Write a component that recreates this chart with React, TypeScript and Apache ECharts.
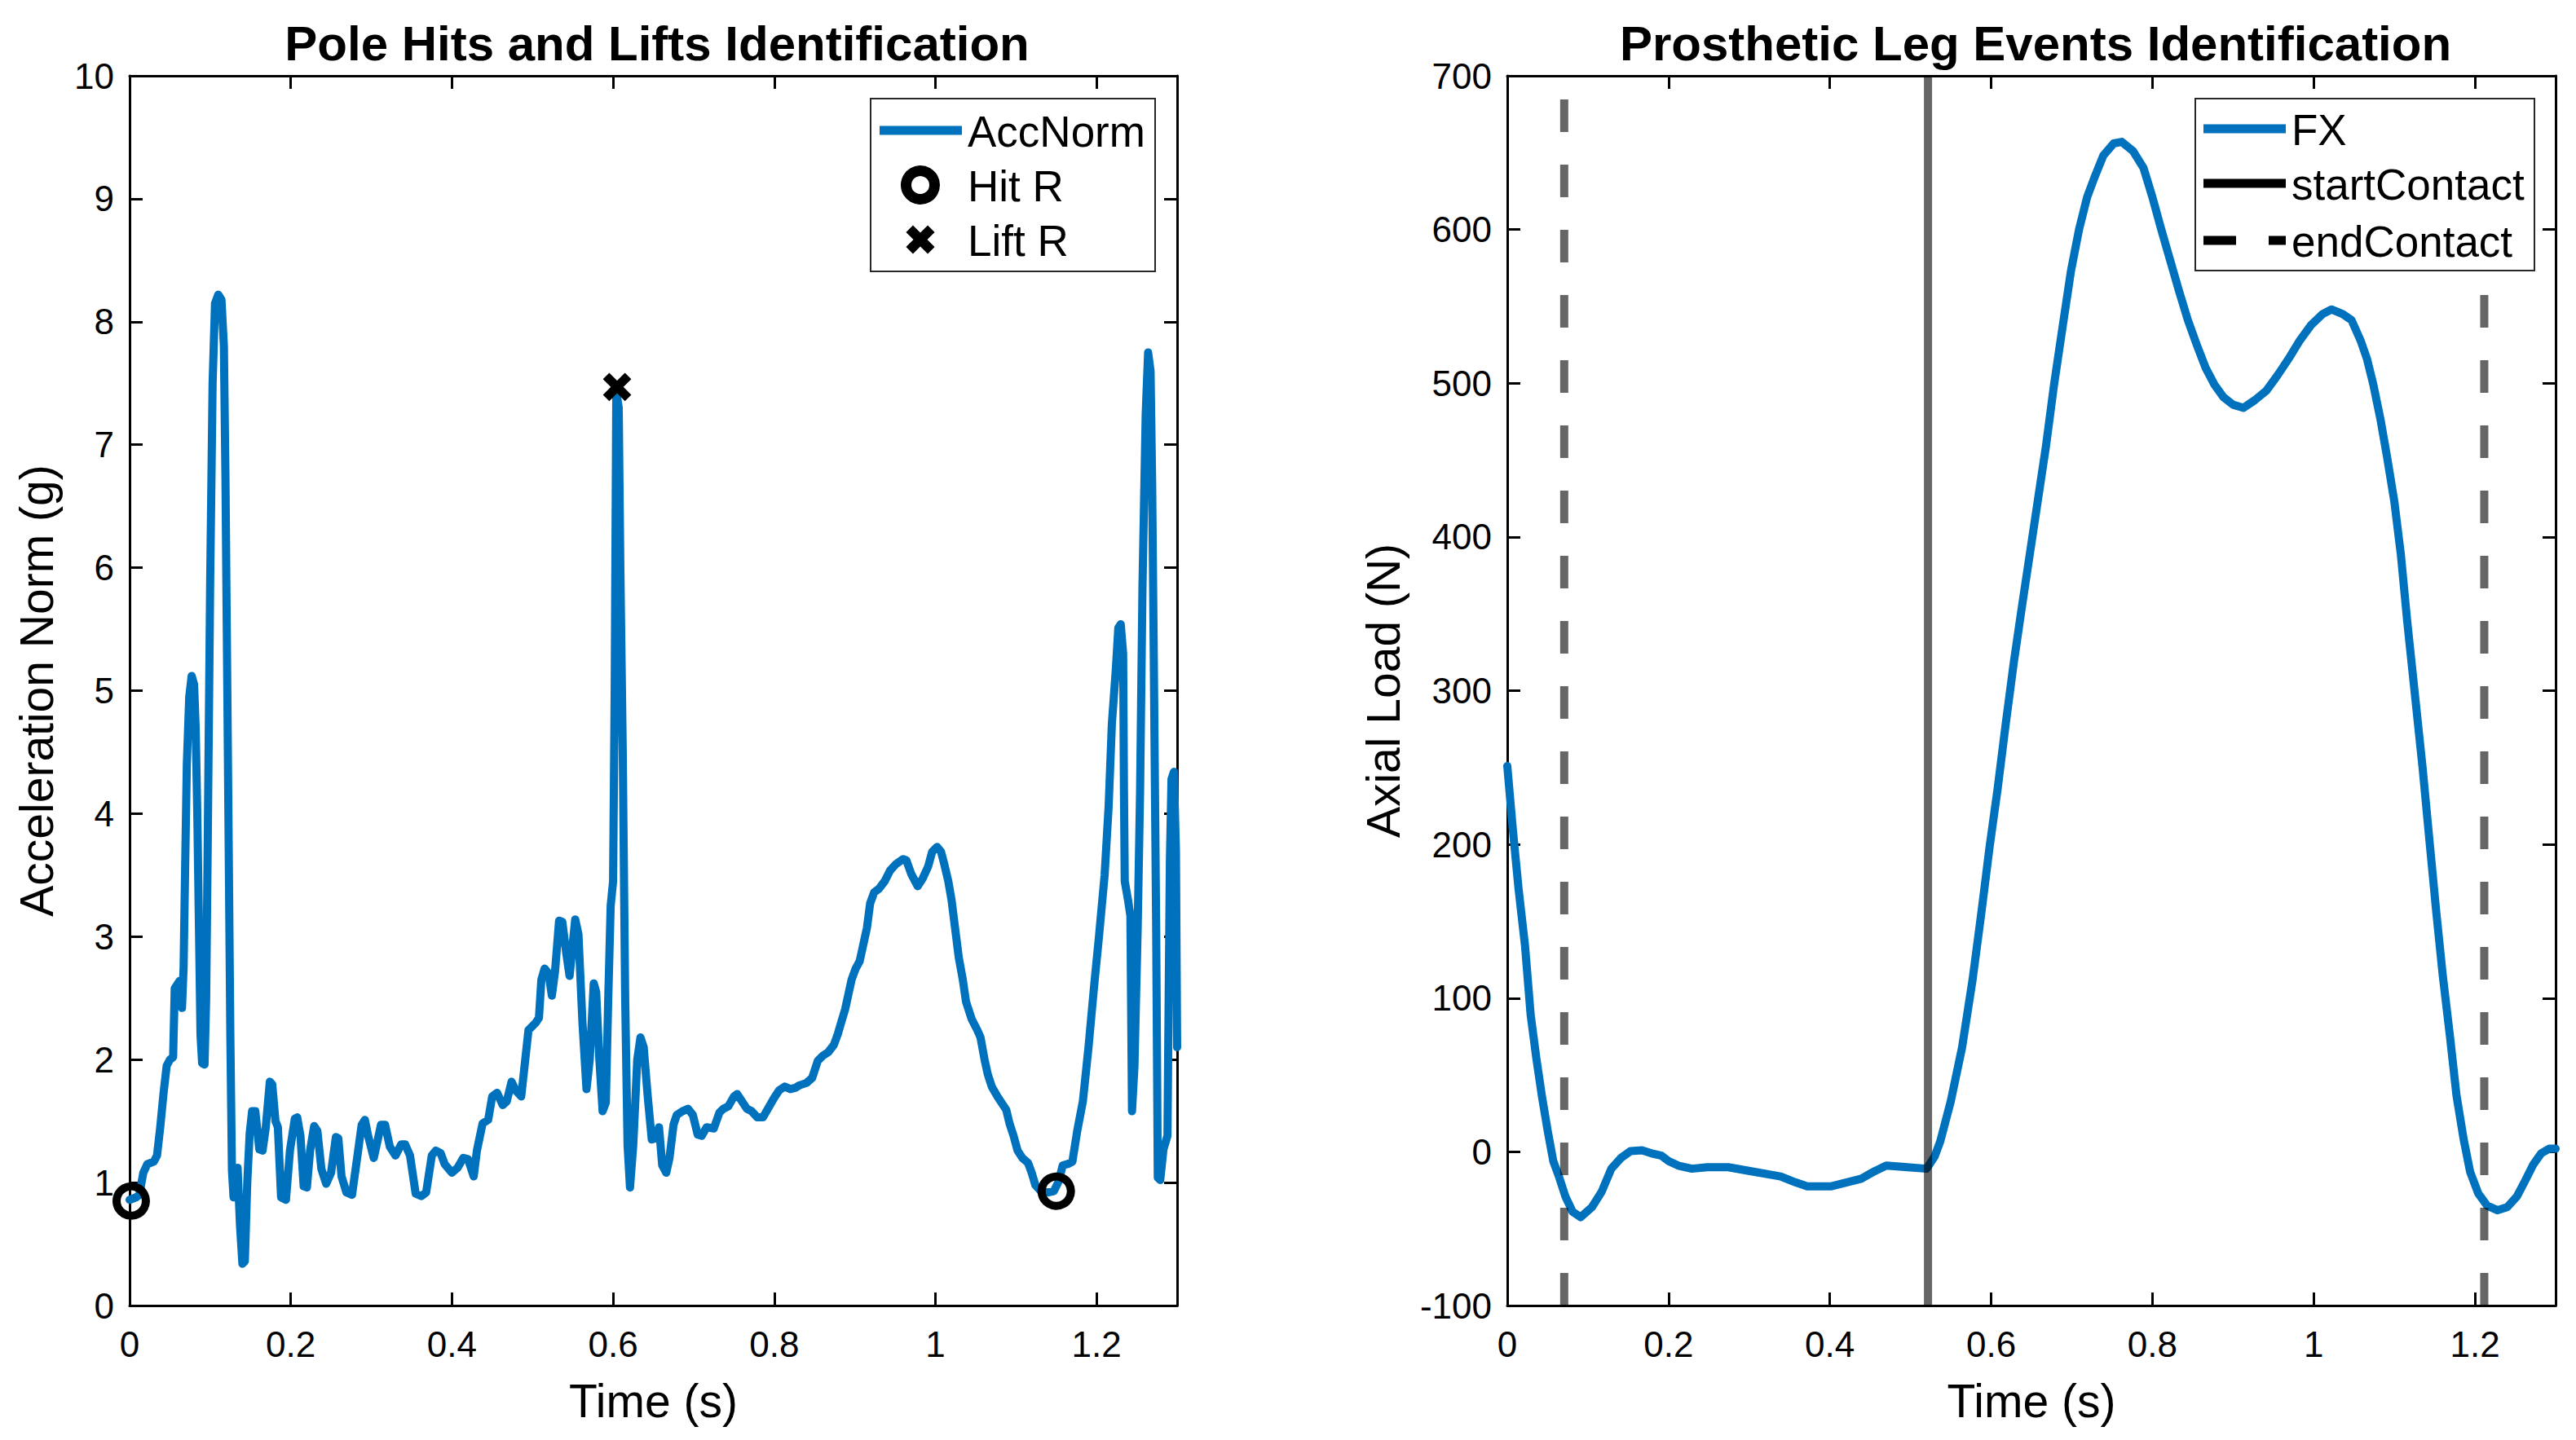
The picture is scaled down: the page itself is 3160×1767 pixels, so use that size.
import { useEffect, useRef } from "react";
import * as echarts from "echarts";

// Pole acceleration norm (g) vs time (s)
const ACC_T = [
  0.0, 0.008, 0.012, 0.017, 0.022, 0.03, 0.034, 0.038, 0.042, 0.046, 0.05, 0.054, 0.056, 0.062, 0.065, 0.067,
  0.069, 0.071, 0.074, 0.077, 0.08, 0.082, 0.084, 0.086, 0.088, 0.09, 0.093, 0.095, 0.097, 0.1, 0.103, 0.106,
  0.11, 0.114, 0.117, 0.119, 0.121, 0.123, 0.125, 0.127, 0.129, 0.131, 0.134, 0.137, 0.14, 0.143, 0.146, 0.149,
  0.152, 0.156, 0.161, 0.165, 0.169, 0.174, 0.177, 0.181, 0.184, 0.188, 0.194, 0.199, 0.205, 0.208, 0.212, 0.216,
  0.22, 0.224, 0.229, 0.233, 0.238, 0.244, 0.25, 0.256, 0.259, 0.263, 0.269, 0.276, 0.283, 0.288, 0.292, 0.296,
  0.303, 0.307, 0.312, 0.317, 0.323, 0.33, 0.337, 0.342, 0.348, 0.355, 0.362, 0.368, 0.375, 0.38, 0.386, 0.391,
  0.4, 0.407, 0.414, 0.42, 0.427, 0.431, 0.438, 0.445, 0.45, 0.456, 0.463, 0.468, 0.474, 0.479, 0.486, 0.49,
  0.495, 0.504, 0.508, 0.511, 0.515, 0.52, 0.524, 0.528, 0.533, 0.537, 0.542, 0.546, 0.549, 0.553, 0.557, 0.562,
  0.567, 0.571, 0.576, 0.579, 0.583, 0.587, 0.591, 0.594, 0.597, 0.6, 0.602, 0.604, 0.607, 0.609, 0.612, 0.615,
  0.618, 0.621, 0.625, 0.63, 0.634, 0.638, 0.643, 0.648, 0.653, 0.657, 0.661, 0.666, 0.67, 0.675, 0.679, 0.686,
  0.693, 0.699, 0.705, 0.71, 0.716, 0.725, 0.732, 0.737, 0.743, 0.75, 0.754, 0.759, 0.766, 0.772, 0.779, 0.786,
  0.793, 0.8, 0.806, 0.813, 0.82, 0.826, 0.831, 0.84, 0.847, 0.854, 0.86, 0.867, 0.874, 0.879, 0.883, 0.888,
  0.892, 0.896, 0.901, 0.906, 0.91, 0.915, 0.919, 0.924, 0.93, 0.937, 0.944, 0.951, 0.96, 0.964, 0.97, 0.978,
  0.984, 0.991, 0.996, 1.002, 1.007, 1.011, 1.016, 1.02, 1.025, 1.029, 1.034, 1.038, 1.045, 1.052, 1.056, 1.061,
  1.065, 1.07, 1.077, 1.083, 1.088, 1.092, 1.097, 1.102, 1.108, 1.115, 1.12, 1.124, 1.131, 1.14, 1.147, 1.153,
  1.158, 1.164, 1.17, 1.176, 1.183, 1.19, 1.197, 1.203, 1.21, 1.215, 1.219, 1.224, 1.227, 1.23, 1.233, 1.234,
  1.235, 1.239, 1.242, 1.244, 1.247, 1.251, 1.254, 1.257, 1.261, 1.264, 1.267, 1.269, 1.271, 1.274, 1.276, 1.279,
  1.283, 1.288, 1.291, 1.293, 1.296, 1.2985, 1.3,
];
const ACC_V = [
  0.86, 0.88, 0.9, 1.08, 1.15, 1.17, 1.22, 1.45, 1.72, 1.95, 2.0, 2.02, 2.58, 2.64, 2.42, 2.75,
  3.6, 4.4, 4.95, 5.12, 5.05, 4.7, 4.0, 3.1, 2.2, 1.97, 1.96, 2.5, 3.8, 5.9, 7.5, 8.15,
  8.22, 8.18, 7.8, 6.7, 5.2, 3.7, 2.2, 1.1, 0.88, 0.95, 1.12, 0.65, 0.34, 0.36, 1.0, 1.4,
  1.58, 1.58, 1.27, 1.26, 1.45, 1.82, 1.8, 1.5, 1.45, 0.88, 0.86, 1.26, 1.52, 1.53, 1.38, 0.97,
  0.96, 1.26, 1.46, 1.42, 1.11, 0.99, 1.08, 1.37, 1.36, 1.05, 0.92, 0.9, 1.23, 1.47, 1.51, 1.38,
  1.2, 1.32, 1.47, 1.47, 1.29, 1.22, 1.31, 1.31, 1.22, 0.91, 0.89, 0.92, 1.22, 1.26, 1.24, 1.15,
  1.08, 1.12, 1.2, 1.19, 1.05, 1.26, 1.48, 1.51, 1.7, 1.73, 1.63, 1.66, 1.82, 1.75, 1.7, 1.94,
  2.24, 2.3, 2.34, 2.65, 2.74, 2.7, 2.52, 2.72, 3.13, 3.12, 2.86, 2.68, 2.88, 3.14, 3.02, 2.3,
  1.76, 2.0, 2.62, 2.55, 2.0, 1.58, 1.65, 2.5, 3.25, 3.45, 5.0, 7.43, 7.3, 6.0, 4.5, 2.5,
  1.3, 0.96, 1.3, 2.0, 2.18, 2.1, 1.7, 1.35, 1.36, 1.45, 1.14, 1.08, 1.2, 1.47, 1.55, 1.58,
  1.6, 1.55, 1.39, 1.38, 1.45, 1.44, 1.57, 1.6, 1.62, 1.7, 1.72, 1.67, 1.6, 1.58, 1.53, 1.53,
  1.61, 1.69, 1.75, 1.78, 1.76, 1.77, 1.79, 1.81, 1.85, 1.99, 2.03, 2.06, 2.12, 2.21, 2.3, 2.41,
  2.53, 2.65, 2.74, 2.8, 2.92, 3.07, 3.27, 3.36, 3.39, 3.45, 3.54, 3.59, 3.63, 3.62, 3.51, 3.41,
  3.47, 3.57, 3.69, 3.73, 3.69, 3.59, 3.45, 3.3, 3.04, 2.83, 2.65, 2.47, 2.33, 2.24, 2.18, 2.0,
  1.88, 1.78, 1.7, 1.64, 1.59, 1.48, 1.38, 1.26, 1.2, 1.16, 1.07, 0.98, 0.93, 0.92, 0.93, 1.01,
  1.14, 1.15, 1.17, 1.42, 1.66, 2.1, 2.6, 3.0, 3.5, 4.06, 4.73, 5.18, 5.51, 5.54, 5.3, 4.2,
  3.45, 3.3, 3.17, 1.58, 1.94, 3.06, 4.17, 5.85, 7.25, 7.75, 7.6, 6.69, 5.29, 3.06, 1.04, 1.02,
  1.27, 1.38, 3.61, 4.28, 4.34, 3.7, 2.1,
];

const HIT_T = [0.002, 1.15];
const HIT_V = [0.85, 0.93];
const LIFT_T = [0.605];
const LIFT_V = [7.47];

// Prosthetic leg axial load (N) vs time (s)
const FX_T = [
  0.0, 0.007, 0.014, 0.022, 0.029, 0.036, 0.043, 0.05, 0.057, 0.064, 0.072, 0.081, 0.091, 0.105, 0.117, 0.129,
  0.141, 0.153, 0.167, 0.179, 0.191, 0.2, 0.212, 0.229, 0.248, 0.274, 0.301, 0.339, 0.358, 0.372, 0.401, 0.42,
  0.439, 0.456, 0.47, 0.496, 0.52, 0.53, 0.537, 0.55, 0.564, 0.577, 0.588, 0.598, 0.608, 0.618, 0.628, 0.638,
  0.648, 0.658, 0.668, 0.678, 0.689, 0.699, 0.709, 0.719, 0.729, 0.739, 0.752, 0.762, 0.776, 0.789,
  0.8, 0.811, 0.822, 0.833, 0.844, 0.855, 0.866, 0.877, 0.888, 0.9, 0.913, 0.927, 0.941, 0.955, 0.969, 0.983,
  0.997, 1.011, 1.022, 1.036, 1.047, 1.058, 1.066, 1.074, 1.083, 1.091, 1.1, 1.108, 1.116, 1.125, 1.135, 1.144,
  1.152, 1.16, 1.169, 1.177, 1.186, 1.194, 1.204, 1.215, 1.228, 1.24, 1.252, 1.262, 1.272, 1.282, 1.292, 1.3,
];
const FX_V = [
  251, 209, 171, 134, 89, 61, 36, 14, -6, -16, -29, -39, -42.5, -36, -26, -11,
  -4, 0.5, 1, -1, -2.5, -6, -9, -11, -10, -10, -12.5, -16, -20, -22.5, -22.5, -20,
  -17.5, -12.5, -9, -10, -11, -3, 7, 33, 68, 112, 156, 198, 236, 278, 318, 354,
  389, 424, 459, 499, 538, 573, 600, 621, 635, 648, 656, 657, 651, 640,
  621, 600, 580, 560, 541, 525, 510, 499, 491, 486, 484, 489, 495, 505, 516, 528,
  538, 545, 548, 545, 541, 528, 516, 499, 476, 452, 423, 389, 345, 300, 250, 200,
  156, 115, 75, 37, 8, -13, -27, -35, -38, -36, -29, -19, -8.5, -1, 2, 2,
];

const START_CONTACT_T = [0.5217];
const END_CONTACT_T = [0.0706, 1.2115];

const TIME_RANGE = [0, 1.3];
const ACC_RANGE = [0, 10];
const LOAD_RANGE = [-100, 700];

const FONT = '"Liberation Sans", Arial, Helvetica, sans-serif';
const BLUE = "#0072BD";
const EVENT_GRAY = "rgba(0,0,0,0.6)";

const zip = (t: number[], v: number[]) => t.map((x, i) => [x, v[i]]);
const fmt = (v: number) => String(+v.toFixed(1));

const axisLine = { show: true, onZero: false, lineStyle: { color: "#000", width: 3 } };
const axisTick = { show: true, inside: true, length: 16, lineStyle: { color: "#000", width: 3 } };
const tickLabel = { color: "#000", fontSize: 44, fontFamily: FONT };
const nameStyle = { color: "#000", fontSize: 57, fontFamily: FONT };

function xAxes(grid: number) {
  const base = {
    gridIndex: grid,
    type: "value",
    min: TIME_RANGE[0],
    max: TIME_RANGE[1],
    interval: 0.2,
    splitLine: { show: false },
    axisLine,
    axisTick,
  };
  return [
    {
      ...base,
      position: "bottom",
      axisLabel: { ...tickLabel, margin: 25, showMaxLabel: false, formatter: fmt },
      name: "Time (s)",
      nameLocation: "middle",
      nameGap: 88,
      nameTextStyle: nameStyle,
    },
    { ...base, position: "top", axisLabel: { show: false } },
  ];
}

function yAxes(grid: number, range: number[], interval: number, name: string, nameGap: number) {
  const base = {
    gridIndex: grid,
    type: "value",
    min: range[0],
    max: range[1],
    interval,
    splitLine: { show: false },
    axisLine,
    axisTick,
  };
  return [
    {
      ...base,
      position: "left",
      axisLabel: { ...tickLabel, margin: 19 },
      name,
      nameLocation: "middle",
      nameGap,
      nameTextStyle: nameStyle,
    },
    { ...base, position: "right", axisLabel: { show: false } },
  ];
}

function eventLine(name: string, t: number, dashed: boolean) {
  return {
    name,
    type: "line",
    xAxisIndex: 2,
    yAxisIndex: 2,
    data: [
      [t, LOAD_RANGE[0]],
      [t, LOAD_RANGE[1]],
    ],
    showSymbol: false,
    z: 4,
    lineStyle: { color: EVENT_GRAY, width: 10, type: dashed ? [40, 40] : "solid", cap: "butt" },
  };
}

function legendText(text: string, x: number, y: number) {
  return {
    type: "text",
    x,
    y,
    z: 11,
    style: { text, fill: "#000", fontSize: 53, fontFamily: FONT, verticalAlign: "middle", align: "left" },
  };
}

function legendLine(x1: number, x2: number, y: number, color: string, dash?: number[]) {
  return {
    type: "line",
    z: 11,
    shape: { x1, y1: y, x2, y2: y },
    style: { stroke: color, lineWidth: 11, lineDash: dash ?? null },
  };
}

export default function App() {
  const ref = useRef<HTMLDivElement>(null);

  useEffect(() => {
    if (!ref.current) return;
    const chart = echarts.init(ref.current, undefined, { renderer: "svg" });
    chart.setOption({
      animation: false,
      backgroundColor: "#ffffff",
      textStyle: { fontFamily: FONT },
      title: [
        {
          text: "Pole Hits and Lifts Identification",
          left: 801,
          top: 18,
          textAlign: "center",
          textStyle: { color: "#000", fontSize: 60, fontWeight: "bold", fontFamily: FONT },
        },
        {
          text: "Prosthetic Leg Events Identification",
          left: 2492,
          top: 18,
          textAlign: "center",
          textStyle: { color: "#000", fontSize: 60, fontWeight: "bold", fontFamily: FONT },
        },
      ],
      grid: [
        { left: 159, top: 93, width: 1285, height: 1509 },
        { left: 1849, top: 93, width: 1286, height: 1509 },
      ],
      xAxis: [...xAxes(0), ...xAxes(1)],
      yAxis: [
        ...yAxes(0, ACC_RANGE, 1, "Acceleration Norm (g)", 86),
        ...yAxes(1, LOAD_RANGE, 100, "Axial Load (N)", 124),
      ],
      series: [
        {
          name: "AccNorm",
          type: "line",
          xAxisIndex: 0,
          yAxisIndex: 0,
          data: zip(ACC_T, ACC_V),
          showSymbol: false,
          lineStyle: { color: BLUE, width: 10, cap: "round", join: "round" },
          z: 2,
        },
        {
          name: "Hit R",
          type: "scatter",
          xAxisIndex: 0,
          yAxisIndex: 0,
          data: zip(HIT_T, HIT_V),
          symbol: "circle",
          symbolSize: 36,
          clip: false,
          itemStyle: { color: "rgba(0,0,0,0)", borderColor: "#000", borderWidth: 10, opacity: 1 },
          z: 3,
        },
        {
          name: "Lift R",
          type: "scatter",
          xAxisIndex: 0,
          yAxisIndex: 0,
          data: zip(LIFT_T, LIFT_V),
          symbol: "path://M0 0L10 10M10 0L0 10",
          symbolSize: 27,
          clip: false,
          itemStyle: { color: "rgba(0,0,0,0)", borderColor: "#000", borderWidth: 11, opacity: 1 },
          z: 3,
        },
        {
          name: "FX",
          type: "line",
          xAxisIndex: 2,
          yAxisIndex: 2,
          data: zip(FX_T, FX_V),
          showSymbol: false,
          lineStyle: { color: BLUE, width: 10, cap: "round", join: "round" },
          z: 2,
        },
        ...START_CONTACT_T.map((t) => eventLine("startContact", t, false)),
        ...END_CONTACT_T.map((t) => eventLine("endContact", t, true)),
      ],
      graphic: [
        // left legend
        {
          type: "rect",
          z: 10,
          shape: { x: 1068, y: 121, width: 349, height: 212 },
          style: { fill: "#fff", stroke: "#262626", lineWidth: 2 },
        },
        legendLine(1079, 1180, 160, BLUE),
        legendText("AccNorm", 1187, 161),
        {
          type: "circle",
          z: 11,
          shape: { cx: 1129, cy: 227, r: 17.5 },
          style: { fill: "none", stroke: "#000", lineWidth: 13 },
        },
        legendText("Hit R", 1187, 228),
        {
          type: "line",
          z: 11,
          shape: { x1: 1115.7, y1: 280.7, x2: 1142.3, y2: 307.3 },
          style: { stroke: "#000", lineWidth: 12 },
        },
        {
          type: "line",
          z: 11,
          shape: { x1: 1142.3, y1: 280.7, x2: 1115.7, y2: 307.3 },
          style: { stroke: "#000", lineWidth: 12 },
        },
        legendText("Lift R", 1187, 295),
        // right legend
        {
          type: "rect",
          z: 10,
          shape: { x: 2693, y: 121, width: 416, height: 211 },
          style: { fill: "#fff", stroke: "#262626", lineWidth: 2 },
        },
        legendLine(2703, 2804, 158, BLUE),
        legendText("FX", 2811, 159),
        legendLine(2703, 2804, 225, "#000"),
        legendText("startContact", 2811, 226),
        legendLine(2703, 2804, 295, "#000", [40, 40]),
        legendText("endContact", 2811, 296),
      ],
    });
    return () => chart.dispose();
  }, []);

  return (
    <div
      ref={ref}
      style={{ position: "fixed", left: 0, top: 0, width: 3160, height: 1767, background: "#fff" }}
    />
  );
}
